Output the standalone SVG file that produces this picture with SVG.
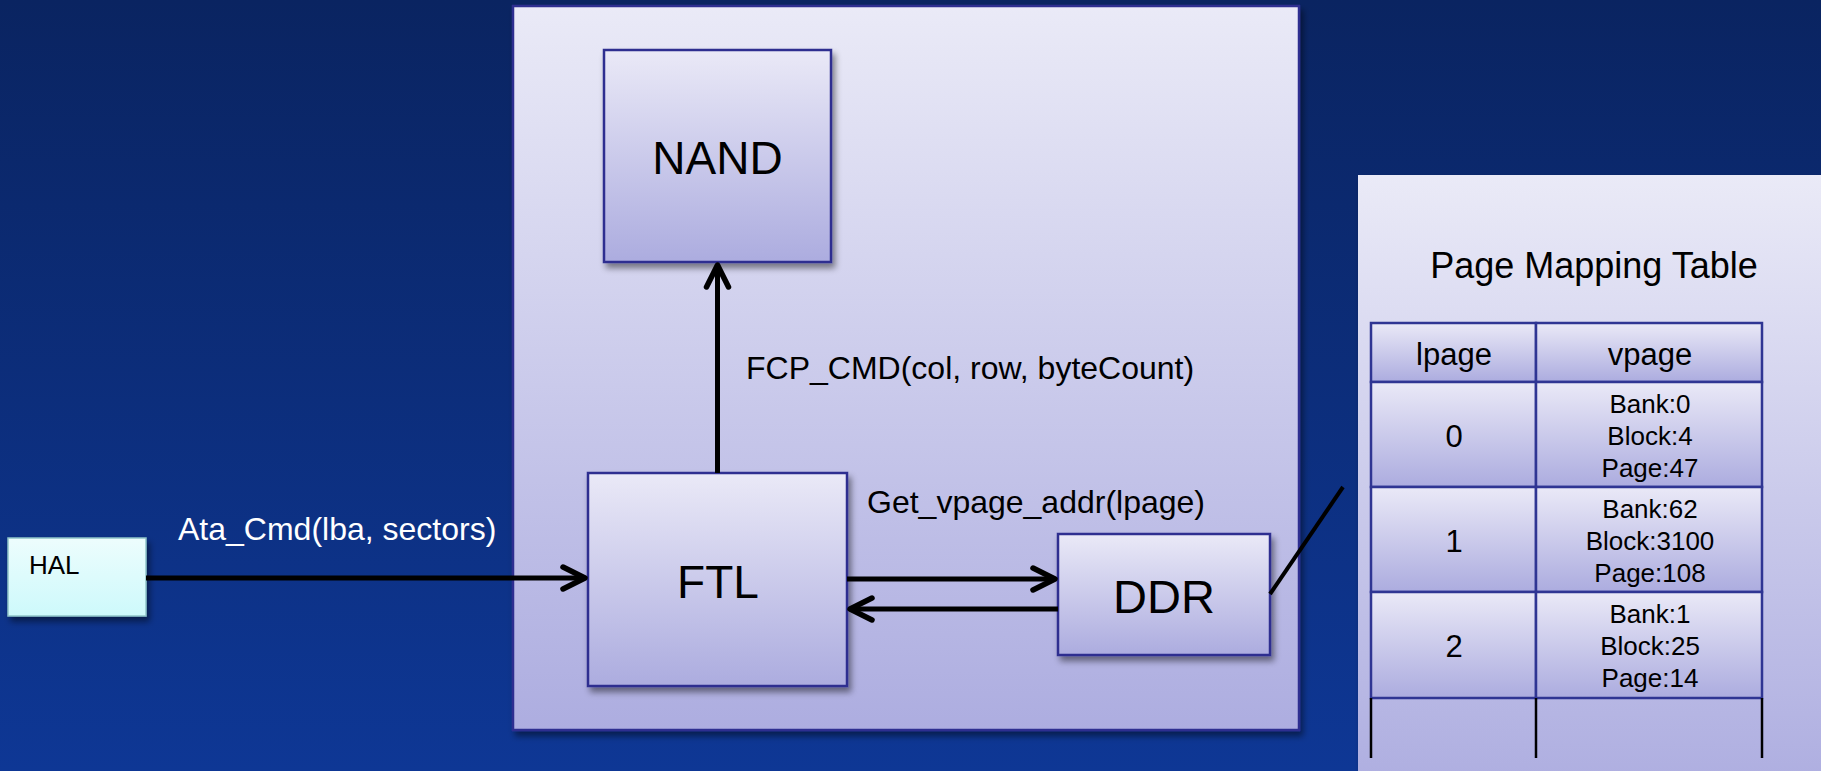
<svg xmlns="http://www.w3.org/2000/svg" width="1821" height="771" viewBox="0 0 1821 771">
  <defs>
    <linearGradient id="bg" x1="0" y1="0" x2="0" y2="1">
      <stop offset="0" stop-color="#0a2461"/>
      <stop offset="1" stop-color="#0e3795"/>
    </linearGradient>
    <linearGradient id="panel" x1="0" y1="0" x2="0" y2="1">
      <stop offset="0" stop-color="#eaeaf7"/>
      <stop offset="1" stop-color="#adade0"/>
    </linearGradient>
    <linearGradient id="box" x1="0" y1="0" x2="0" y2="1">
      <stop offset="0" stop-color="#eae9f7"/>
      <stop offset="1" stop-color="#acacdf"/>
    </linearGradient>
    <linearGradient id="hal" x1="0" y1="0" x2="0" y2="1">
      <stop offset="0" stop-color="#edfdfd"/>
      <stop offset="1" stop-color="#cdf9fb"/>
    </linearGradient>
    <filter id="shadow" x="-10%" y="-10%" width="130%" height="130%">
      <feDropShadow dx="3" dy="5" stdDeviation="3" flood-color="#000" flood-opacity="0.45"/>
    </filter>
    <marker id="arrow" markerUnits="userSpaceOnUse" markerWidth="34" markerHeight="34" refX="27" refY="15" orient="auto">
      <path d="M5,4 L27,15 L5,26" fill="none" stroke="#000" stroke-width="5.5" stroke-linecap="round" stroke-linejoin="round"/>
    </marker>
  </defs>
  <style>
    .lbl { font-family: "Liberation Sans", Arial, sans-serif; }
    .box { fill: url(#box); stroke: #2e2e90; stroke-width: 2.5; filter: url(#shadow); }
    .cell { fill: url(#box); stroke: #2f3593; stroke-width: 2.5; }
    .conn { stroke: #000; stroke-width: 5; fill: none; }
    .big { font-size: 46px; fill: #000; text-anchor: middle; }
    .mid { font-size: 32px; }
    .tc { font-size: 31px; fill: #000; text-anchor: middle; }
    .tv { font-size: 26px; fill: #000; text-anchor: middle; }
  </style>

  <rect x="0" y="0" width="1821" height="771" fill="url(#bg)"/>

  <g id="ssd-panel">
    <rect x="513" y="6" width="786" height="724" fill="url(#panel)" stroke="#2e2e90" stroke-width="2.5" filter="url(#shadow)"/>
  </g>

  <g id="table-panel">
    <rect x="1358" y="175" width="480" height="620" fill="url(#panel)" filter="url(#shadow)"/>
    <text class="lbl" x="1594" y="278" font-size="36" text-anchor="middle" fill="#000">Page Mapping Table</text>
  </g>

  <g id="HAL">
    <rect x="8" y="538" width="138" height="78" fill="url(#hal)" stroke="#8fc4c8" stroke-width="1.5" filter="url(#shadow)"/>
    <text class="lbl" x="29" y="574" font-size="26" fill="#000">HAL</text>
  </g>

  <g id="NAND">
    <rect class="box" x="604" y="50" width="227" height="212"/>
    <text class="lbl big" x="717.5" y="174">NAND</text>
  </g>

  <g id="FTL">
    <rect class="box" x="588" y="473" width="259" height="213"/>
    <text class="lbl big" x="718" y="598">FTL</text>
  </g>

  <g id="DDR">
    <rect class="box" x="1058" y="534" width="212" height="121"/>
    <text class="lbl big" x="1164" y="613" style="font-size:47px">DDR</text>
  </g>

  <g id="table">
    <rect class="cell" x="1371" y="323" width="165" height="59"/>
    <rect class="cell" x="1536" y="323" width="226" height="59"/>
    <rect class="cell" x="1371" y="382" width="165" height="105"/>
    <rect class="cell" x="1536" y="382" width="226" height="105"/>
    <rect class="cell" x="1371" y="487" width="165" height="105"/>
    <rect class="cell" x="1536" y="487" width="226" height="105"/>
    <rect class="cell" x="1371" y="592" width="165" height="106"/>
    <rect class="cell" x="1536" y="592" width="226" height="106"/>
    <g stroke="#000" stroke-width="2.5">
      <line x1="1371" y1="698" x2="1371" y2="758"/>
      <line x1="1536" y1="698" x2="1536" y2="758"/>
      <line x1="1762" y1="698" x2="1762" y2="758"/>
    </g>
    <text class="lbl tc" x="1454" y="365">lpage</text>
    <text class="lbl tc" x="1650" y="365">vpage</text>
    <text class="lbl tc" x="1454" y="447">0</text>
    <text class="lbl tc" x="1454" y="552">1</text>
    <text class="lbl tc" x="1454" y="657">2</text>
    <text class="lbl tv" x="1650" y="413">Bank:0</text>
    <text class="lbl tv" x="1650" y="445">Block:4</text>
    <text class="lbl tv" x="1650" y="477">Page:47</text>
    <text class="lbl tv" x="1650" y="518">Bank:62</text>
    <text class="lbl tv" x="1650" y="550">Block:3100</text>
    <text class="lbl tv" x="1650" y="582">Page:108</text>
    <text class="lbl tv" x="1650" y="623">Bank:1</text>
    <text class="lbl tv" x="1650" y="655">Block:25</text>
    <text class="lbl tv" x="1650" y="687">Page:14</text>
  </g>

  <g id="connectors">
    <line class="conn" x1="146" y1="578" x2="585" y2="578" marker-end="url(#arrow)"/>
    <line class="conn" x1="717.5" y1="473" x2="717.5" y2="265" marker-end="url(#arrow)"/>
    <line class="conn" x1="847" y1="579" x2="1055" y2="579" marker-end="url(#arrow)"/>
    <line class="conn" x1="1058" y1="609" x2="850" y2="609" marker-end="url(#arrow)"/>
    <line class="conn" x1="1270" y1="594" x2="1343" y2="487" style="stroke-width:4"/>
    <text class="lbl mid" x="178" y="540" fill="#fff">Ata_Cmd(lba, sectors)</text>
    <text class="lbl mid" x="746" y="379" fill="#000">FCP_CMD(col, row, byteCount)</text>
    <text class="lbl mid" x="867" y="513" fill="#000">Get_vpage_addr(lpage)</text>
  </g>
</svg>
